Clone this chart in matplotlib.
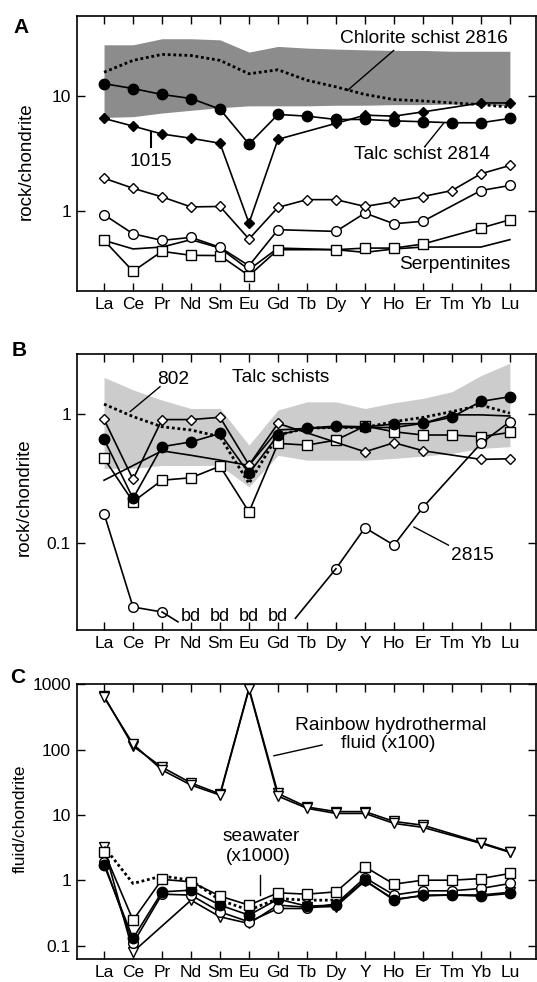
import numpy as np
import matplotlib.pyplot as plt

plt.rcParams['font.family'] = ['Liberation Sans', 'DejaVu Sans']

nan = np.nan
elements = ['La', 'Ce', 'Pr', 'Nd', 'Sm', 'Eu', 'Gd', 'Tb', 'Dy', 'Y', 'Ho', 'Er', 'Tm', 'Yb', 'Lu']

# ---- panel A: rock/chondrite
a_band_top = [27.9, 27.9, 31.5, 31.5, 30.8, 24.1, 27.0, 26.1, 25.6, 25.2, 24.9, 24.9, 24.5, 24.5, 24.5]
a_band_bot = [6.5, 6.6, 7.1, 7.5, 7.9, 8.2, 8.2, 8.2, 8.3, 8.3, 8.4, 8.4, 8.5, 8.4, 8.2]
a_2816 = [16.1, 20.4, 23.0, 22.5, 20.4, 15.6, 16.9, 13.7, 12.0, 10.3, 9.3, 9.05, 8.7, 8.4, 8.0]
a_2814 = [12.8, 11.6, 10.3, 9.5, 7.67, 3.81, 6.9, 6.67, 6.24, 6.24, 6.07, 5.96, 5.84, 5.84, 6.37]
a_1015 = [6.37, 5.46, 4.66, 4.28, 3.87, 0.78, 4.19, nan, 5.77, 6.8, 6.67, 7.26, nan, 8.69, 8.69]
a_odiam = [1.92, 1.57, 1.32, 1.08, 1.09, 0.567, 1.07, 1.25, 1.25, 1.09, 1.2, 1.33, 1.5, 2.1, 2.48]
a_ocirc = [0.923, 0.63, 0.552, 0.586, 0.48, 0.332, 0.684, nan, 0.661, 0.955, 0.77, 0.81, nan, 1.5, 1.66]
a_square = [0.552, 0.297, 0.443, 0.409, 0.407, 0.272, 0.458, nan, 0.458, 0.473, 0.473, 0.513, nan, 0.707, 0.835]
a_plain = [0.552, 0.465, 0.483, 0.56, 0.473, 0.307, 0.473, nan, 0.458, 0.434, 0.465, 0.483, nan, 0.483, 0.56]

# ---- panel B: talc schists
b_band_top = [1.94, 1.55, 1.29, 1.11, 1.11, 0.576, 1.08, 1.25, 1.25, 1.11, 1.23, 1.33, 1.5, 2.0, 2.5]
b_band_bot = [0.38, 0.38, 0.40, 0.40, 0.40, 0.273, 0.48, 0.44, 0.44, 0.44, 0.454, 0.473, 0.497, 0.543, 0.56]
b_802 = [1.2, 0.96, 0.80, 0.755, 0.67, 0.29, 0.69, 0.78, 0.79, 0.79, 0.877, 0.946, 1.05, 1.18, 1.02]
b_fcirc = [0.64, 0.222, 0.56, 0.61, 0.71, 0.347, 0.69, 0.78, 0.81, 0.80, 0.84, 0.85, 0.95, 1.26, 1.37]
b_odiam = [0.914, 0.312, 0.91, 0.91, 0.948, 0.403, 0.85, nan, nan, 0.511, 0.601, 0.521, nan, 0.446, 0.451]
b_square = [0.454, 0.209, 0.307, 0.321, 0.395, 0.174, 0.594, 0.576, 0.63, 0.81, 0.732, 0.69, 0.69, 0.67, 0.723]
b_plain = [0.307, nan, 0.52, 0.48, 0.44, 0.40, 0.755, 0.778, 0.79, 0.79, 0.79, 0.85, 0.99, 0.99, 0.97]
b_2815 = [0.169, 0.0317, 0.029, nan, nan, nan, nan, nan, 0.063, 0.131, 0.096, 0.189, nan, 0.594, 0.877]

# ---- panel C: fluid/chondrite
c_fluid1 = [632, 122, 48.9, 28.8, 20.2, 838, 19.5, 12.7, 10.6, 10.6, 7.46, 6.49, nan, 3.69, 2.69]
c_fluid2 = [660, 113, 54, 31, 21, 870, 21.4, 13.3, 11.3, 11.3, 8.0, 7.0, nan, 3.8, 2.75]
c_square = [2.75, 0.247, 1.04, 0.955, 0.577, 0.42, 0.647, 0.618, 0.67, 1.62, 0.88, 1.01, 1.01, 1.07, 1.28]
c_fcirc = [1.72, 0.13, 0.67, 0.711, 0.42, 0.295, 0.519, 0.405, 0.42, 1.01, 0.5, 0.597, 0.6, 0.577, 0.634]
c_ocirc = [1.9, 0.109, 0.618, 0.597, 0.331, 0.233, 0.373, 0.373, 0.44, 1.1, 0.6, 0.695, 0.695, 0.755, 0.9]
c_tri = [3.2, 0.081, nan, 0.5, 0.278, 0.22, 0.42, 0.39, 0.40, 0.98, 0.52, 0.58, 0.6, 0.6, 0.66]
c_dotted = [3.27, 0.9, 1.17, 1.01, 0.5, 0.352, 0.53, 0.5, 0.5, nan, nan, nan, nan, nan, nan]

FS = 12.5
AFS = 13.8
x = np.arange(len(elements))
W, H = 537, 982
LEFT, RIGHT = 76.5, 536


def series(ax, vals, start=0, stop=None, **kw):
    y = np.asarray(vals, float)[start:stop]
    xs = x[start:stop]
    ok = ~np.isnan(y)
    ax.plot(xs[ok], y[ok], **kw)


def style(ax, ylim, ticks, labels, ylabel, lab_x, lab_y, lab_fs):
    ax.set_yscale('log')
    ax.set_xlim(-0.95, 14.9)
    ax.set_ylim(*ylim)
    ax.set_xticks(x)
    ax.set_xticklabels(elements)
    ax.set_yticks(ticks)
    ax.set_yticklabels(labels)
    ax.yaxis.set_minor_locator(plt.NullLocator())
    ax.tick_params(direction='in', length=6, width=1, top=True, right=True,
                   labelsize=FS, pad=4)
    for s in ax.spines.values():
        s.set_linewidth(1.2)
    fig.text(lab_x / W, 1 - lab_y / H, ylabel, rotation=90, ha='center', va='center',
             fontsize=lab_fs)


k = dict(color='black', lw=1.2)
filled_c = dict(marker='o', ms=7.5, mfc='black', mec='black', **k)
open_c = dict(marker='o', ms=7, mfc='white', mec='black', mew=1, **k)
filled_d = dict(marker='D', ms=5, mfc='black', mec='black', **k)
open_d = dict(marker='D', ms=5, mfc='white', mec='black', mew=1, **k)
open_s = dict(marker='s', ms=7, mfc='white', mec='black', mew=1, **k)
open_t = dict(marker='v', ms=7, mfc='white', mec='black', mew=1, **k)
dotted = dict(color='black', lw=2, ls=(0, (1, 1)))

fig = plt.figure(figsize=(5.37, 9.82), dpi=100)


def add_axes(top, bottom):
    return fig.add_axes([LEFT / W, 1 - bottom / H, (RIGHT - LEFT) / W, (bottom - top) / H])


# ---------------- A
axA = add_axes(15.7, 291)
axA.fill_between(x, a_band_bot, a_band_top, color='#8c8c8c', lw=0, zorder=0)
series(axA, a_2816, **dotted)
series(axA, a_plain, **k)
series(axA, a_square, **open_s)
series(axA, a_ocirc, **open_c)
series(axA, a_odiam, **open_d)
series(axA, a_1015, **filled_d)
series(axA, a_2814, **filled_c)
style(axA, (0.2, 50), [1, 10], ['1', '10'], 'rock/chondrite', 26.5, 161, 13.5)
axA.text(11.03, 31.8, 'Chlorite schist 2816', fontsize=AFS, ha='center', va='center')
axA.plot([9.99, 8.4], [24.9, 11.2], color='black', lw=1)
axA.text(10.97, 3.12, 'Talc schist 2814', fontsize=AFS, ha='center', va='center')
axA.plot([11.06, 11.71], [3.61, 5.77], color='black', lw=1)
axA.text(1.61, 2.68, '1015', fontsize=AFS, ha='center', va='center')
axA.plot([1.61, 1.61], [4.84, 3.59], color='black', lw=1.5)
axA.text(12.09, 0.34, 'Serpentinites', fontsize=AFS, ha='center', va='center')

# ---------------- B
axB = add_axes(354.3, 630)
axB.fill_between(x, b_band_bot, b_band_top, color='#cccccc', lw=0, zorder=0)
series(axB, b_802, **dotted)
series(axB, b_plain, **k)
series(axB, b_square, **open_s)
series(axB, b_odiam, **open_d)
series(axB, b_fcirc, **filled_c)
series(axB, b_2815, 0, 3, **open_c)
series(axB, b_2815, 8, None, **open_c)
style(axB, (0.021, 2.93), [0.1, 1], ['0.1', '1'], 'rock/chondrite', 24, 497, 13.5)
axB.text(2.38, 1.85, '802', fontsize=AFS, ha='center', va='center')
axB.plot([1.93, 0.9], [1.64, 1.05], color='black', lw=1)
axB.text(6.1, 1.92, 'Talc schists', fontsize=AFS, ha='center', va='center')
axB.text(12.71, 0.0802, '2815', fontsize=AFS, ha='center', va='center')
axB.plot([11.88, 10.69], [0.096, 0.133], color='black', lw=1)
for i in range(3, 7):
    axB.text(i, 0.0269, 'bd', fontsize=13, ha='center', va='center')
axB.plot([2, 2.55], [0.029, 0.0243], color='black', lw=1.2)
axB.plot([6.6, 8], [0.0259, 0.063], color='black', lw=1.2)

# ---------------- C
axC = add_axes(684.3, 959)
series(axC, c_fluid2, **open_t)
series(axC, c_fluid1, **open_t)
series(axC, c_tri, **open_t)
series(axC, c_ocirc, **open_c)
series(axC, c_fcirc, **filled_c)
series(axC, c_dotted, **dotted)
series(axC, c_square, **open_s)
style(axC, (0.063, 1000), [0.1, 1, 10, 100, 1000], ['0.1', '1', '10', '100', '1000'],
      'fluid/chondrite', 20.5, 819, 12.5)
axC.text(9.89, 238, 'Rainbow hydrothermal', fontsize=AFS, ha='center', va='center')
axC.text(9.79, 125, 'fluid (x100)', fontsize=AFS, ha='center', va='center')
axC.plot([7.52, 5.86], [118, 80.7], color='black', lw=1)
axC.text(5.41, 4.66, 'seawater', fontsize=AFS, ha='center', va='center')
axC.text(5.34, 2.3, '(x1000)', fontsize=AFS, ha='center', va='center')
axC.plot([5.38, 5.38], [1.21, 0.597], color='black', lw=1)

fig.text(21 / W, 1 - 27.5 / H, 'A', fontsize=15, fontweight='bold', ha='center', va='center')
fig.text(19 / W, 1 - 351 / H, 'B', fontsize=15, fontweight='bold', ha='center', va='center')
fig.text(18 / W, 1 - 677.7 / H, 'C', fontsize=15, fontweight='bold', ha='center', va='center')

fig.savefig('out.png', dpi=100)
